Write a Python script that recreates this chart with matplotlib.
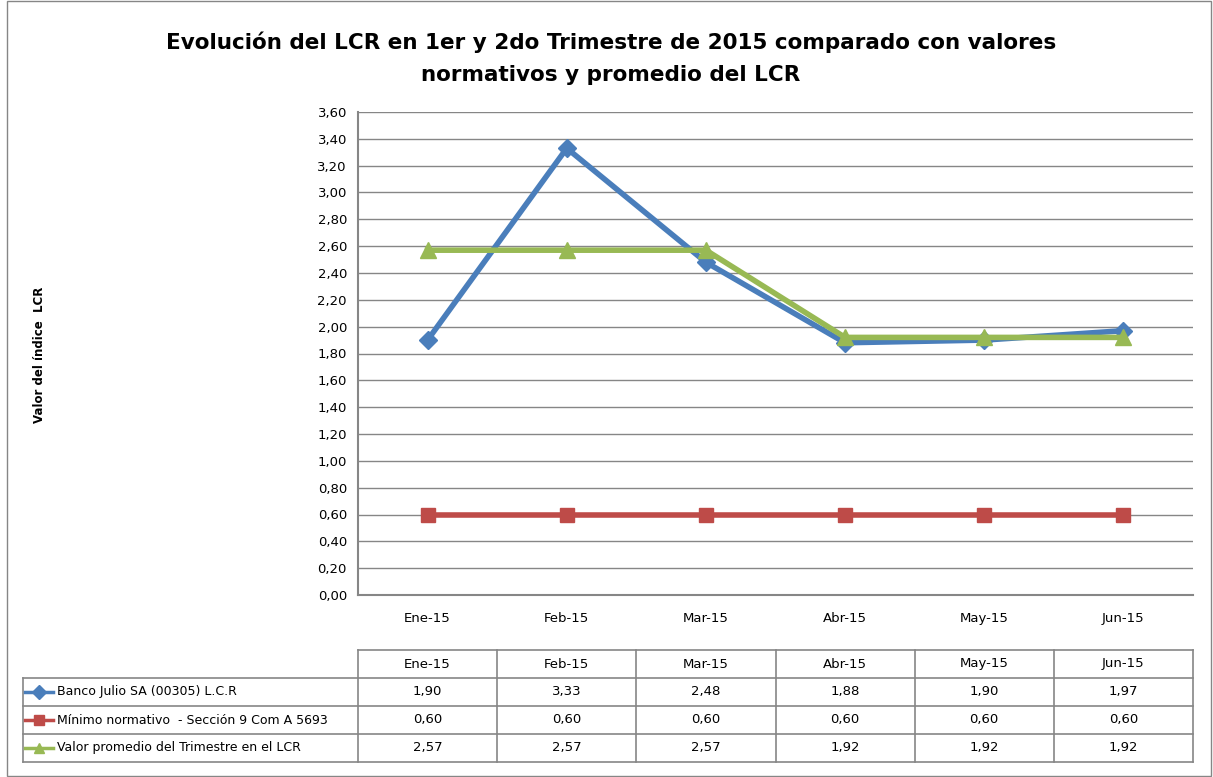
import matplotlib
matplotlib.use("Agg")
import matplotlib.pyplot as plt
from matplotlib.lines import Line2D
from matplotlib.patches import Rectangle

# chart data
months = ["Ene-15", "Feb-15", "Mar-15", "Abr-15", "May-15", "Jun-15"]
banco = [1.90, 3.33, 2.48, 1.88, 1.90, 1.97]
minimo = [0.60, 0.60, 0.60, 0.60, 0.60, 0.60]
promedio = [2.57, 2.57, 2.57, 1.92, 1.92, 1.92]
series_names = ["Banco Julio SA (00305) L.C.R",
                "Mínimo normativo  - Sección 9 Com A 5693",
                "Valor promedio del Trimestre en el LCR"]
yticks = [i * 0.2 for i in range(19)]

W, H = 1213, 777
plt.rcParams['font.family'] = ['DejaVu Sans']
fig = plt.figure(figsize=(W / 100, H / 100), dpi=100)


def fx(px):
    return px / W


def fy(py):
    return 1 - py / H


# outer frame
fig.patches.append(Rectangle((fx(7), fy(776)), fx(1211) - fx(7), fy(1) - fy(776),
                             transform=fig.transFigure, fill=False,
                             edgecolor="#868686", lw=1))

fig.text(fx(611), fy(42), "Evolución del LCR en 1er y 2do Trimestre de 2015 comparado con valores",
         ha="center", va="center", fontsize=15.5, fontweight="bold")
fig.text(fx(611), fy(75), "normativos y promedio del LCR",
         ha="center", va="center", fontsize=15.5, fontweight="bold")

left, right, top, bottom = 358, 1193, 112, 595
ax = fig.add_axes([fx(left), fy(bottom), fx(right) - fx(left), fy(top) - fy(bottom)])
x = list(range(len(months)))
colors = ["#4A7EBB", "#BE4B48", "#98B954"]
markers = ["D", "s", "^"]
msizes = [9, 10, 11]
for vals, c, m, ms in zip([banco, minimo, promedio], colors, markers, msizes):
    ax.plot(x, vals, color=c, lw=4, marker=m, markersize=ms, zorder=3)

ax.set_xlim(-0.5, len(months) - 0.5)
ax.set_ylim(0, 3.6)
ax.set_yticks(yticks)
ax.set_yticklabels([f"{v:.2f}".replace(".", ",") for v in yticks], fontsize=9.5)
ax.set_xticks(x)
ax.set_xticklabels(months, fontsize=9.5)
ax.tick_params(axis="y", length=0, pad=8)
ax.tick_params(axis="x", length=0, pad=12)
ax.yaxis.grid(True, color="#868686", lw=1)
ax.set_axisbelow(True)
for s in ["top", "right"]:
    ax.spines[s].set_visible(False)
for s in ["left", "bottom"]:
    ax.spines[s].set_color("#868686")
    ax.spines[s].set_linewidth(1.5)

fig.text(fx(40), fy(355), "Valor del índice  LCR", rotation=90, ha="center", va="center",
         fontsize=8.5, fontweight="bold")

# data table
col_w = (right - left) / len(months)
rows_y = [650, 678, 706, 734, 762]
gc = "#868686"


def hline(y, x0, x1):
    fig.add_artist(Line2D([fx(x0), fx(x1)], [fy(y), fy(y)], color=gc, lw=1.2,
                          transform=fig.transFigure))


def vline(xp, y0, y1):
    fig.add_artist(Line2D([fx(xp), fx(xp)], [fy(y0), fy(y1)], color=gc, lw=1.2,
                          transform=fig.transFigure))


hline(rows_y[0], left, right)
for y in rows_y[1:]:
    hline(y, 23, right)
vline(23, rows_y[1], rows_y[-1])
for i in range(len(months) + 1):
    vline(left + i * col_w, rows_y[0], rows_y[-1])

for i, m in enumerate(months):
    fig.text(fx(left + (i + 0.5) * col_w), fy((rows_y[0] + rows_y[1]) / 2), m,
             ha="center", va="center", fontsize=9.5)

for r, (name, vals, c, mk) in enumerate(zip(series_names, [banco, minimo, promedio],
                                            colors, markers)):
    yc = (rows_y[r + 1] + rows_y[r + 2]) / 2
    fig.add_artist(Line2D([fx(25), fx(53)], [fy(yc), fy(yc)], color=c, lw=2.5,
                          transform=fig.transFigure))
    fig.add_artist(Line2D([fx(39)], [fy(yc)], color=c, marker=mk, markersize=7.5,
                          transform=fig.transFigure))
    fig.text(fx(57), fy(yc), name, ha="left", va="center", fontsize=9)
    for i, v in enumerate(vals):
        fig.text(fx(left + (i + 0.5) * col_w), fy(yc), f"{v:.2f}".replace(".", ","),
                 ha="center", va="center", fontsize=9.5)

fig.savefig("out.png", dpi=100)
